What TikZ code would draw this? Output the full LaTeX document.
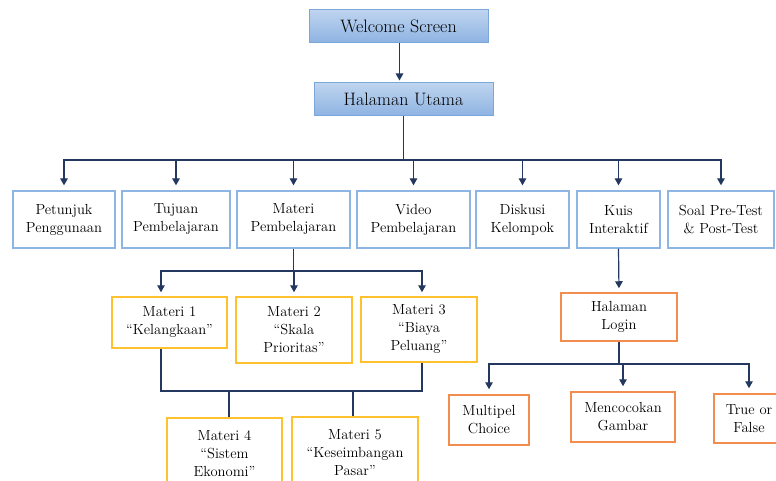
\documentclass[tikz,border=0pt]{standalone}
\usetikzlibrary{arrows.meta}
\definecolor{headtop}{HTML}{BFD4EF}
\definecolor{headbottom}{HTML}{8DB3E2}
\definecolor{headedge}{HTML}{7AA6DA}
\definecolor{menuedge}{HTML}{8DB6E4}
\definecolor{materiedge}{HTML}{FFC22E}
\definecolor{kuisedge}{HTML}{F28D4E}
\definecolor{linkcolor}{HTML}{23375F}
\tikzset{
    head box/.style={
        draw=headedge,
        line width=1pt,
        top color=headtop,
        bottom color=headbottom,
        minimum width=179pt,
        minimum height=33pt,
        font=\fontsize{18}{21}\selectfont
    },
    menu box/.style={
        draw=menuedge,
        line width=1.3pt,
        align=center,
        minimum height=57pt,
        font=\fontsize{14.6}{18}\selectfont
    },
    materi box/.style={
        menu box,
        draw=materiedge,
        line width=1.5pt
    },
    kuis box/.style={
        menu box,
        draw=kuisedge,
        line width=1.5pt
    },
    link line/.style={
        linkcolor,
        line width=1.2pt
    },
    link arrow/.style={
        link line,
        -{Triangle[width=7.5pt,length=7pt]},
        shorten >=5pt
    }
}
\begin{document}
\begin{tikzpicture}[x=1pt,y=-1pt]
\useasboundingbox (0,0) rectangle (776,481);
\clip (0,0) rectangle (776,481);

\node[head box] (welcome) at (398.5,26.5) {Welcome Screen};
\node[head box] (utama) at (403.5,99.5) {Halaman Utama};

\node[menu box, minimum width=102pt] (petunjuk) at (64,219.5) {Petunjuk\\Penggunaan};
\node[menu box, minimum width=108pt] (tujuan) at (176,219.5) {Tujuan\\Pembelajaran};
\node[menu box, minimum width=113pt] (materi) at (293.5,219.5) {Materi\\Pembelajaran};
\node[menu box, minimum width=113pt] (video) at (413.5,219.5) {Video\\Pembelajaran};
\node[menu box, minimum width=93pt] (diskusi) at (522.5,219.5) {Diskusi\\Kelompok};
\node[menu box, minimum width=83pt] (kuis) at (618.5,219.5) {Kuis\\Interaktif};
\node[menu box, minimum width=106pt] (soal) at (721,219.5) {Soal Pre-Test\\\& Post-Test};

\node[materi box, minimum width=115pt, minimum height=51pt] (materi1) at (169.5,322.5) {Materi 1\\``Kelangkaan''};
\node[materi box, minimum width=116pt, minimum height=66pt] (materi2) at (294,330) {Materi 2\\``Skala\\Prioritas''};
\node[materi box, minimum width=116pt, minimum height=65pt] (materi3) at (419,329.5) {Materi 3\\``Biaya\\Peluang''};
\node[materi box, minimum width=115pt, minimum height=72pt] (materi4) at (224.5,454) {Materi 4\\``Sistem\\Ekonomi''};
\node[materi box, minimum width=126pt, minimum height=72pt] (materi5) at (355,453) {Materi 5\\``Keseimbangan\\Pasar''};

\node[kuis box, minimum width=116pt, minimum height=48pt] (login) at (619,317) {Halaman\\Login};
\node[kuis box, minimum width=80pt, minimum height=50pt] (multipel) at (489,420) {Multipel\\Choice};
\node[kuis box, minimum width=104pt, minimum height=50pt] (gambar) at (623,417) {Mencocokan\\Gambar};
\node[kuis box, minimum width=70pt, minimum height=49pt] (truefalse) at (749,418.5) {True or\\False};

\coordinate (busmenu) at (403.5,160);
\coordinate (busmateri) at (293.5,271);
\coordinate (busgabung) at (291,391);
\coordinate (buskuis) at (619,364);

\draw[link arrow, shorten >=2pt] ([xshift=1pt]welcome.south) -- ([xshift=-4pt]utama.north);
\draw[link line] (utama.south) -- (busmenu);
\foreach \menu in {petunjuk,tujuan,materi,video,diskusi,kuis,soal}
    \draw[link arrow] (busmenu) -| (\menu.north);

\draw[link line] (materi.south) -- (busmateri);
\draw[link arrow, shorten >=4pt] (busmateri) -| ([xshift=-8.5pt]materi1.north);
\draw[link arrow, shorten >=4pt] (busmateri) -| (materi2.north);
\draw[link arrow, shorten >=4pt] (busmateri) -| ([xshift=3pt]materi3.north);
\draw[link line] ([xshift=-8.5pt]materi1.south) |- (busgabung) -| ([xshift=3pt]materi3.south);
\draw[link line] ([xshift=4.5pt]materi4.north) -- ([xshift=4.5pt]materi4.north |- busgabung);
\draw[link line] ([xshift=-2pt]materi5.north) -- ([xshift=-2pt]materi5.north |- busgabung);

\draw[link arrow, shorten >=4pt] (kuis.south) -- (login.north);
\draw[link line] (login.south) -- (buskuis);
\foreach \kuis in {multipel,gambar,truefalse}
    \draw[link arrow] (buskuis) -| (\kuis.north);
\end{tikzpicture}
\end{document}
